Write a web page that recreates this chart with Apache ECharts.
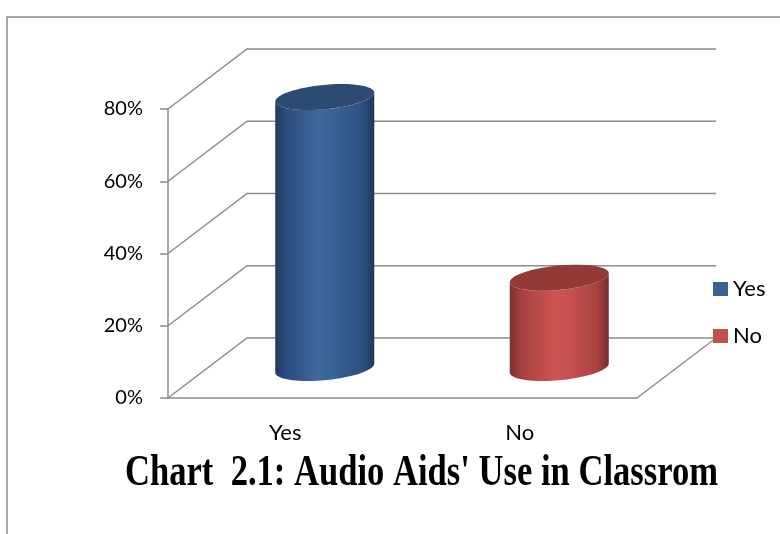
<!DOCTYPE html>
<html>
<head>
<meta charset="utf-8">
<title>Chart 2.1</title>
<script src="https://cdn.jsdelivr.net/npm/echarts@6/dist/echarts.min.js"></script>
<style>
  html, body { margin: 0; padding: 0; background: #fff; }
  #chart1 { width: 780px; height: 534px; }
</style>
</head>
<body>
<div id="chart1"></div>
<script type="text/javascript">
    // data
    var categories = ['Yes', 'No'];
    var values = [75, 25];
    var yTicks = [0, 20, 40, 60, 80];
    var seriesColors = ['#3a6192', '#c0504d'];
    var chartTitle = "Chart  2.1: Audio Aids' Use in Classrom";

    // oblique "3D" depth of the plot box, in pixels
    var depthX = 79, depthY = -60;
    var gridColor = '#8c8c8c';

    // gradients for the cylinder body and the cap
    var bodyStops = [
        [['0', '#203b63'], ['0.12', '#2b4e7e'], ['0.42', '#3e679b'], ['0.6', '#3a6194'], ['0.88', '#2d5081'], ['1', '#1f385c']],
        [['0', '#7f2f2d'], ['0.12', '#a5413e'], ['0.45', '#cd5451'], ['0.62', '#c4504d'], ['0.88', '#a8423f'], ['1', '#7a2d2b']]
    ];
    var capColors = ['#2c4a72', '#923a38'];

    function ellipsePts(cx, cy, R, p, q, t0, t1, n) {
        var pts = [];
        for (var i = 0; i <= n; i++) {
            var t = t0 + (t1 - t0) * i / n;
            pts.push([cx + R * Math.cos(t) + p * Math.sin(t), cy - q * Math.sin(t)]);
        }
        return pts;
    }

    // back wall, side wall and floor lines
    function renderWalls(params, api) {
        var v = api.value(0);
        var cs = params.coordSys;
        var y = api.coord([0, v])[1];
        var x0 = cs.x, x1 = cs.x + cs.width;
        var children = [{
            type: 'polyline',
            shape: { points: [[x0, y], [x0 + depthX, y + depthY], [x1 + depthX, y + depthY]] },
            style: { stroke: gridColor, lineWidth: 1.5, fill: null }
        }];
        if (v === yTicks[0]) {
            children.push({
                type: 'line',
                shape: { x1: x1, y1: y, x2: x1 + depthX, y2: y + depthY },
                style: { stroke: gridColor, lineWidth: 1.5 }
            });
        }
        return { type: 'group', children: children };
    }

    function renderCylinder(params, api) {
        var c = api.value(0), v = api.value(1);
        var idx = params.seriesIndex - 1;
        var base = api.coord([c, 0]);
        var top = api.coord([c, v]);
        var bw = api.size([1, 0])[0];
        var rt = bw * 0.211;
        var R = rt * 0.94, p = rt * 0.343, q = rt * 0.263;
        var bx = base[0] + depthX / 2, by = base[1] + depthY / 2;
        var tx = top[0] + depthX / 2, ty = top[1] + depthY / 2;
        var tr = Math.atan2(p, R), tl = tr + Math.PI;
        var body = ellipsePts(bx, by, R, p, q, tl, tl + Math.PI, 40)
            .concat(ellipsePts(tx, ty, R, p, q, tl + Math.PI, tl, 40));
        var stops = bodyStops[idx].map(function (s) { return { offset: +s[0], color: s[1] }; });
        return {
            type: 'group',
            children: [{
                type: 'polygon',
                shape: { points: body },
                style: {
                    fill: {
                        type: 'linear', global: true,
                        x: bx - rt, y: 0, x2: bx + rt, y2: 0,
                        colorStops: stops
                    }
                }
            }, {
                type: 'polygon',
                shape: { points: ellipsePts(tx, ty, R, p, q, 0, Math.PI * 2, 60) },
                style: { fill: capColors[idx] }
            }]
        };
    }

    var myChart1 = echarts.init(document.getElementById('chart1'));

    var series = [{
        name: 'walls',
        type: 'custom',
        z: 1,
        silent: true,
        renderItem: renderWalls,
        data: yTicks.map(function (t) { return [t]; })
    }];
    categories.forEach(function (name, i) {
        series.push({
            name: name,
            type: 'custom',
            z: 3,
            itemStyle: { color: seriesColors[i] },
            renderItem: renderCylinder,
            encode: { x: 0, y: 1 },
            data: [[i, values[i]]]
        });
    });

    myChart1.setOption({
        animation: false,
        graphic: [{
            type: 'rect',
            shape: { x: 7, y: 17, width: 800, height: 600 },
            style: { fill: 'none', stroke: '#8c8c8c', lineWidth: 1.5 },
            z: -1
        }, {
            // title is drawn a bit taller than wide, like the source picture
            type: 'text',
            x: 125,
            y: 474,
            scaleY: 1.28,
            style: {
                text: chartTitle,
                font: 'bold 34.6px "Liberation Serif"',
                fill: '#000',
                verticalAlign: 'middle'
            }
        }],
        legend: {
            data: categories,
            orient: 'vertical',
            left: 708,
            top: 273,
            itemWidth: 15,
            itemHeight: 14,
            itemGap: 25,
            icon: 'rect',
            textStyle: { fontFamily: 'Lato', fontSize: 22, color: '#000' }
        },
        grid: { left: 168, right: 143, top: 109, bottom: 136 },
        xAxis: {
            type: 'category',
            data: categories,
            axisLine: { lineStyle: { color: gridColor, width: 1.5 } },
            axisTick: { length: 7, lineStyle: { color: gridColor, width: 1.5 } },
            axisLabel: { margin: 24, fontFamily: 'Lato', fontSize: 22, color: '#000' },
            splitLine: { show: false }
        },
        yAxis: {
            type: 'value',
            min: 0,
            max: yTicks[yTicks.length - 1],
            interval: 20,
            axisLine: { show: true, lineStyle: { color: gridColor, width: 1.5 } },
            axisTick: { show: true, length: 8, lineStyle: { color: gridColor, width: 1.5 } },
            axisLabel: { margin: 25, fontFamily: 'Lato', fontSize: 20, color: '#000', formatter: '{value}%' },
            splitLine: { show: false }
        },
        series: series
    });
</script>
</body>
</html>
